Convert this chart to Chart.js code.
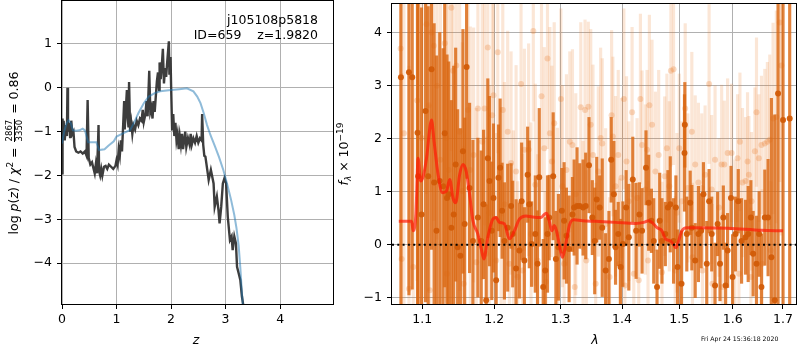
<!DOCTYPE html>
<html>
<head>
<meta charset="utf-8">
<script src="https://cdn.jsdelivr.net/npm/chart.js@4.4.1/dist/chart.umd.min.js"></script>
<style>
  body { margin: 0; background: #fff; }
  #fig { position: relative; width: 800px; height: 350px; overflow: hidden; font-family: "DejaVu Sans", sans-serif; color: #000; }
  canvas { position: absolute; top: 0; }
  .txt { position: absolute; white-space: pre; font-size: 12.5px; line-height: 1; }
  .mid { transform: translate(-50%, -50%); }
  .vlab { position: absolute; width: 300px; height: 20px; line-height: 20px; text-align: center; white-space: pre; font-size: 12.5px; transform: rotate(-90deg); }
  .frac { display: inline-block; vertical-align: middle; text-align: center; font-size: 8.5px; line-height: 9px; margin: 0 1px; }
  .frac span { display: block; padding: 0 1px; }
  .frac span:first-child { border-bottom: 1px solid #000; }
  sup { font-size: 9px; vertical-align: 5px; line-height: 0; }
  sub { font-size: 9px; vertical-align: -3px; line-height: 0; }
</style>
</head>
<body>
<div id="fig">
  <canvas id="pz" width="340" height="350" style="left:0"></canvas>
  <canvas id="spec" width="465" height="350" style="left:335px"></canvas>
  <div class="txt" style="right:482px; top:14px">j105108p5818</div>
  <div class="txt" style="right:482px; top:29px">ID=659    z=1.9820</div>
  <div class="vlab" style="left:-136px; top:143px">log <i>p</i>(<i>z</i>) / <i>χ</i><sup>2</sup> = <span class="frac"><span>2867</span><span>3350</span></span> = 0.86</div>
  <div class="txt mid" style="left:196px; top:340px"><i>z</i></div>
  <div class="vlab" style="left:194px; top:144px"><i>f</i><sub><i>λ</i></sub> × 10<sup>−19</sup></div>
  <div class="txt mid" style="left:595px; top:340px"><i>λ</i></div>
  <div class="txt" style="left:701px; top:336px; font-size:6.2px">Fri Apr 24 15:36:18 2020</div>
</div>
<script>
// left panel: redshift probability
const blackZ = [
  0.00, 0.01, 0.02, 0.03, 0.05, 0.07, 0.09, 0.10, 0.11, 0.13,
  0.15, 0.17, 0.19, 0.21, 0.23, 0.26, 0.30, 0.34, 0.38, 0.42,
  0.45, 0.47, 0.49, 0.52, 0.55, 0.58, 0.60, 0.62, 0.64, 0.66,
  0.67, 0.68, 0.70, 0.72, 0.74, 0.77, 0.80, 0.83, 0.86, 0.90,
  0.94, 0.98, 1.00, 1.02, 1.04, 1.06, 1.08, 1.10, 1.12, 1.14,
  1.15, 1.17, 1.19, 1.20, 1.22, 1.23, 1.25, 1.27, 1.29, 1.31,
  1.34, 1.37, 1.40, 1.43, 1.46, 1.48, 1.50, 1.53, 1.55, 1.57,
  1.60, 1.62, 1.64, 1.66, 1.68, 1.70, 1.72, 1.74, 1.76, 1.78,
  1.79, 1.81, 1.83, 1.85, 1.87, 1.89, 1.91, 1.93, 1.96, 1.97,
  1.99, 2.00, 2.02, 2.04, 2.06, 2.08, 2.10, 2.12, 2.14, 2.16,
  2.18, 2.20, 2.22, 2.24, 2.26, 2.28, 2.31, 2.34, 2.36, 2.38,
  2.41, 2.44, 2.47, 2.50, 2.53, 2.56, 2.57, 2.59, 2.61, 2.63,
  2.69, 2.73, 2.78, 2.80, 2.84, 2.87, 2.89, 2.92, 2.95, 2.98,
  3.01, 3.04, 3.08, 3.11, 3.13, 3.16, 3.19, 3.21, 3.24, 3.27,
  3.30, 3.32, 3.34
];
const blackLogP = [
  -1.95, -0.70, -1.15, -0.75, -1.20, -0.85, -1.10, 0.00, -1.00, -0.80,
  -1.15, -0.75, -1.05, -1.00, -1.35, -1.45, -1.48, -1.45, -1.50, -1.45,
  -1.55, -0.28, -1.60, -1.75, -1.70, -1.85, -1.95, -1.75, -1.95, -1.30,
  -0.85, -1.90, -2.00, -1.85, -2.00, -1.80, -1.78, -1.85, -1.75, -1.80,
  -1.85, -1.78, -1.65, -1.75, -1.40, -1.55, -1.20, -1.45, -0.90, -0.30,
  -0.95, -0.50, -0.05, -0.60, -0.90, 0.13, -1.00, -0.80, -1.05, -0.85,
  -0.95, -0.75, -0.85, -0.70, -0.75, -0.50, -0.78, -0.60, -0.30, -0.65,
  0.39, -0.55, -0.45, -0.70, -0.30, -0.55, -0.20, 0.15, 0.35, -0.05,
  0.58, 0.20, 0.50, 0.89, 0.10, 0.45, 0.25, 0.60, 1.06, 0.30,
  0.70, 0.10, -0.97, -0.60, -1.10, -0.80, -1.20, -1.05, -1.40, -1.10,
  -1.30, -1.05, -1.40, -1.20, -1.00, -1.35, -1.15, -1.30, -1.05, -1.30,
  -1.15, -1.25, -1.10, -1.25, -1.15, -1.20, -0.60, -1.30, -1.55, -1.57,
  -2.10, -1.87, -2.18, -2.71, -2.48, -2.79, -3.09, -2.71, -2.18, -2.06,
  -2.18, -2.94, -3.47, -3.39, -3.70, -3.39, -3.55, -4.08, -4.23, -4.38,
  -4.76, -4.92, -5.30
];
const blueZ = [
  0.00, 0.04, 0.08, 0.12, 0.16, 0.20, 0.26, 0.32, 0.38, 0.42,
  0.46, 0.48, 0.56, 0.63, 0.68, 0.78, 0.85, 0.95, 1.00, 1.10,
  1.25, 1.32, 1.40, 1.50, 1.59, 1.70, 1.80, 2.00, 2.15, 2.29,
  2.41, 2.48, 2.54, 2.60, 2.66, 2.72, 2.80, 2.88, 2.96, 3.03,
  3.10, 3.16, 3.20, 3.24, 3.27, 3.30, 3.34
];
const blueLogP = [
  -1.27, -1.00, -0.82, -0.74, -0.80, -0.97, -0.98, -0.97, -0.93, -0.97,
  -1.15, -1.24, -1.24, -1.24, -1.42, -1.40, -1.32, -1.22, -1.11, -1.05,
  -0.96, -0.80, -0.58, -0.35, -0.20, -0.12, -0.08, -0.05, -0.03, -0.01,
  -0.08, -0.20, -0.35, -0.58, -0.85, -1.07, -1.32, -1.58, -1.88, -2.20,
  -2.55, -2.90, -3.20, -3.60, -4.10, -4.69, -5.30
];
const zTicks = [0, 1, 2, 3, 4];
const logpTicks = [-4, -3, -2, -1, 0, 1];

// right panel: spectrum
const darkLam = [
  1.0722, 1.0826, 1.0869, 1.0939, 1.0947, 1.0992, 1.1045, 1.1080, 1.1125, 1.1160,
  1.1192, 1.1236, 1.1281, 1.1304, 1.1335, 1.1358, 1.1395, 1.1427, 1.1454, 1.1481,
  1.1519, 1.1555, 1.1579, 1.1606, 1.1648, 1.1695, 1.1765, 1.1813, 1.1846, 1.1884,
  1.1907, 1.1931, 1.1964, 1.1989, 1.2027, 1.2061, 1.2085, 1.2114, 1.2148, 1.2196,
  1.2246, 1.2270, 1.2320, 1.2369, 1.2403, 1.2444, 1.2493, 1.2518, 1.2553, 1.2609,
  1.2643, 1.2669, 1.2730, 1.2761, 1.2796, 1.2822, 1.2884, 1.2926, 1.2966, 1.3019,
  1.3055, 1.3092, 1.3134, 1.3187, 1.3214, 1.3261, 1.3304, 1.3357, 1.3400, 1.3453,
  1.3507, 1.3546, 1.3579, 1.3627, 1.3670, 1.3726, 1.3780, 1.3818, 1.3863, 1.3891,
  1.3936, 1.3976, 1.4014, 1.4070, 1.4115, 1.4183, 1.4240, 1.4297, 1.4343, 1.4411,
  1.4458, 1.4505, 1.4546, 1.4604, 1.4651, 1.4691, 1.4751, 1.4797, 1.4839, 1.4898,
  1.4940, 1.4970, 1.5042, 1.5096, 1.5102, 1.5138, 1.5200, 1.5230, 1.5292, 1.5352,
  1.5402, 1.5445, 1.5507, 1.5551, 1.5600, 1.5663, 1.5712, 1.5757, 1.5820, 1.5864,
  1.5902, 1.5967, 1.5998, 1.6056, 1.6108, 1.6172, 1.6250, 1.6302, 1.6355, 1.6400,
  1.6466, 1.6519, 1.6565, 1.6632, 1.6698, 1.6765, 1.6833, 1.6900, 1.7002, 1.7139
];
const darkFlux = [
  3.16, 3.25, 3.16, 2.11, 1.29, 0.57, 2.52, 1.29, 3.31, 1.17,
  0.26, 1.20, 1.10, 2.10, 0.88, 0.95, 0.32, 0.57, 1.51, -0.05,
  -0.21, 1.76, 0.39, 3.35, 1.07, 0.07, 0.51, 0.07, 0.76, -1.05,
  1.63, 1.20, 0.26, 0.88, -0.67, 1.26, 1.45, 0.64, 0.07, 0.32,
  0.73, 0.20, -0.45, -0.11, 0.82, -0.30, 1.32, 0.76, 0.01, 0.20,
  -0.36, 1.27, -0.80, -0.49, 0.20, 0.51, 1.29, -0.27, -0.05, 0.64,
  0.45, 0.17, -0.08, 0.57, 0.70, 0.73, 0.73, 0.70, 0.73, 1.50,
  0.51, 0.07, 0.85, 0.70, 0.32, -0.49, -0.27, 1.60, 0.95, -0.05,
  0.20, -0.42, 0.01, 0.70, 0.14, 1.23, 0.26, 0.57, 0.26, 1.45,
  0.79, 0.45, 0.07, -0.80, 0.45, 0.07, 0.20, 0.70, 0.76, 0.07,
  0.70, -0.42, -0.74, 1.73, 2.26, 0.20, 0.79, 0.32, -0.30, 0.20,
  0.26, 0.95, -0.36, 0.82, 0.20, -0.77, 0.39, -0.36, 0.51, -0.77,
  -0.11, 0.88, -0.61, 0.20, 0.82, 0.07, 0.14, 0.20, 0.51, -0.17,
  -0.36, 0.20, -0.80, 0.51, 0.51, -0.24, -1.05, 2.85, 2.35, 2.38
];
const darkErr = [
  4.5, 4.2, 4.0, 3.8, 3.5, 3.9, 3.6, 3.2, 3.4, 3.0,
  3.3, 2.8, 2.6, 2.9, 2.7, 2.5, 2.4, 2.8, 2.2, 2.6,
  2.4, 2.3, 2.0, 2.1, 1.6, 1.9, 1.5, 1.7, 1.4, 1.8,
  1.5, 1.6, 1.3, 1.4, 1.2, 1.0, 1.3, 0.9, 1.1, 1.2,
  0.8, 1.0, 1.3, 0.9, 1.1, 1.0, 0.9, 1.2, 0.8, 1.1,
  1.0, 1.3, 0.9, 1.0, 1.1, 0.8, 1.2, 0.9, 1.0, 0.8,
  1.1, 0.9, 1.0, 0.7, 0.9, 1.1, 0.8, 0.9, 1.0, 0.9,
  0.7, 1.0, 0.8, 0.6, 1.3, 0.7, 0.9, 0.8, 1.0, 0.7,
  0.6, 0.9, 0.8, 0.7, 1.0, 0.8, 0.9, 0.6, 0.8, 0.7,
  0.9, 0.6, 0.8, 0.7, 0.9, 0.8, 0.6, 0.7, 0.9, 0.8,
  0.6, 0.7, 1.0, 1.1, 0.8, 0.7, 0.6, 0.8, 0.7, 0.9,
  0.7, 0.6, 0.8, 0.6, 0.7, 0.8, 0.6, 0.7, 0.6, 0.8,
  0.7, 0.6, 0.8, 0.7, 0.6, 0.8, 0.7, 0.9, 0.7, 0.8,
  0.9, 0.8, 1.0, 0.9, 1.1, 3.0, 3.5, 5.0, 5.0, 5.0
];
const lightLam = [
  1.0718, 1.0731, 1.0761, 1.0826, 1.0882, 1.0934, 1.0992, 1.1058, 1.1089, 1.1125,
  1.1156, 1.1200, 1.1245, 1.1304, 1.1327, 1.1358, 1.1395, 1.1417, 1.1463, 1.1509,
  1.1546, 1.1625, 1.1658, 1.1704, 1.1742, 1.1765, 1.1827, 1.1860, 1.1907, 1.1931,
  1.1970, 1.1989, 1.2027, 1.2051, 1.2100, 1.2124, 1.2148, 1.2196, 1.2246, 1.2280,
  1.2320, 1.2394, 1.2418, 1.2444, 1.2508, 1.2544, 1.2579, 1.2609, 1.2643, 1.2704,
  1.2746, 1.2796, 1.2833, 1.2864, 1.2900, 1.2951, 1.3004, 1.3029, 1.3092, 1.3145,
  1.3187, 1.3240, 1.3320, 1.3357, 1.3389, 1.3442, 1.3481, 1.3518, 1.3562, 1.3605,
  1.3643, 1.3670, 1.3726, 1.3825, 1.3846, 1.3891, 1.3936, 1.3992, 1.4031, 1.4076,
  1.4115, 1.4171, 1.4200, 1.4256, 1.4314, 1.4343, 1.4400, 1.4429, 1.4470, 1.4516,
  1.4575, 1.4633, 1.4691, 1.4739, 1.4779, 1.4822, 1.4850, 1.4898, 1.4958, 1.5001,
  1.5048, 1.5109, 1.5157, 1.5230, 1.5292, 1.5352, 1.5414, 1.5476, 1.5551, 1.5600,
  1.5663, 1.5738, 1.5788, 1.5839, 1.5902, 1.5979, 1.6043, 1.6094, 1.6140, 1.6191,
  1.6250, 1.6289, 1.6316, 1.6368, 1.6434, 1.6466, 1.6513, 1.6565, 1.6632, 1.6684,
  1.6732, 1.6799, 1.6866, 1.6934, 1.6968, 1.1102, 1.1335, 1.1565, 1.1884, 1.2221,
  1.2344, 1.2771, 1.3055, 1.3224, 1.3410, 1.3791, 1.3959, 1.4048, 1.4285, 1.4446,
  1.4928, 1.5018, 1.5242, 1.5426, 1.5613, 1.5801, 1.6121, 1.6355, 1.6578, 1.6752
];
const lightFlux = [
  3.70, -0.27, 2.10, -0.83, -0.42, 2.72, 2.01, 4.16, 2.63, 4.00,
  3.75, 3.00, 1.60, 3.80, 2.01, 1.41, 4.47, 3.28, 3.38, 2.13,
  1.01, 2.54, 1.41, 1.69, -0.33, 2.57, 1.94, 2.57, 3.72, 0.60,
  2.44, 2.82, -0.30, 3.63, 0.39, 2.54, 0.76, 2.13, 1.54, -0.05,
  1.38, 3.03, -0.49, 1.79, 1.79, 0.20, 4.03, 1.13, -0.30, 2.80,
  1.82, 3.51, 2.10, 1.57, 2.29, 0.20, 2.75, 1.10, 1.41, 1.94,
  1.88, 0.95, 2.59, -0.05, 2.54, 2.60, 2.26, 1.69, -0.74, 1.38,
  2.01, 1.91, 0.39, 2.44, 2.04, 1.10, 1.69, 1.26, 2.75, 1.57,
  0.82, 2.50, -0.55, 0.88, 2.75, 1.88, 1.04, 1.79, 2.63, 2.26,
  1.38, 1.69, -0.52, 1.29, 1.82, 1.10, 3.28, 3.31, 0.60, 1.82,
  0.82, 2.57, 1.07, 2.13, 1.51, 1.17, 1.07, 1.32, 3.03, 1.04,
  1.60, 0.70, 1.51, 1.51, 1.73, 1.73, 0.20, 1.63, 1.94, 1.17,
  1.20, 1.57, 1.32, 0.82, 1.76, 2.50, 1.63, 1.88, 1.91, 1.94,
  1.98, 2.38, 2.41, 4.19, 3.38, -0.86, -0.55, -0.74, -0.17, -0.36,
  -0.61, -0.70, -0.36, -0.80, -0.30, -0.61, -0.36, -0.77, -0.67, -0.30,
  -0.49, -0.74, -0.24, -0.49, -0.74, -0.80, -0.55, -0.61, -0.36, -0.11
];
const lightErr = [
  4.0, 3.5, 3.8, 4.2, 3.6, 3.4, 3.9, 3.2, 3.5, 3.0,
  3.3, 2.9, 3.6, 2.8, 3.1, 3.4, 2.7, 2.9, 2.6, 3.0,
  2.8, 2.5, 2.7, 2.4, 2.9, 2.3, 2.6, 2.2, 2.5, 2.4,
  2.2, 2.0, 2.4, 1.9, 2.2, 2.0, 2.3, 1.9, 2.1, 2.2,
  2.0, 1.8, 2.2, 1.9, 2.0, 2.1, 1.7, 1.9, 2.0, 1.8,
  1.9, 1.7, 2.0, 1.8, 1.9, 2.0, 1.7, 1.9, 1.8, 1.7,
  1.8, 1.9, 1.6, 2.0, 1.7, 1.6, 1.8, 1.7, 1.9, 1.6,
  1.7, 1.6, 1.8, 1.6, 1.5, 1.7, 1.6, 1.5, 1.7, 1.6,
  1.5, 1.6, 1.7, 1.5, 1.6, 1.4, 1.6, 1.5, 1.7, 1.6,
  1.5, 1.6, 1.7, 1.5, 1.4, 1.6, 1.8, 1.8, 1.5, 1.4,
  1.5, 1.6, 1.4, 1.5, 1.3, 1.5, 1.4, 1.3, 1.5, 1.4,
  1.4, 1.3, 1.5, 1.2, 1.4, 1.3, 1.4, 1.2, 1.3, 1.4,
  1.2, 1.3, 1.1, 1.3, 1.2, 1.4, 1.2, 1.3, 1.4, 1.5,
  1.6, 1.8, 2.0, 3.0, 3.2, 3.5, 2.9, 2.6, 2.2, 1.9,
  1.8, 1.7, 1.8, 1.6, 1.7, 1.5, 1.6, 1.5, 1.6, 1.5,
  1.4, 1.5, 1.4, 1.3, 1.5, 1.4, 1.3, 1.3, 1.4, 1.3
];
const modelLam = [
  1.0694, 1.0861, 1.0882, 1.0917, 1.0947, 1.0979, 1.1014, 1.1058, 1.1125, 1.1160,
  1.1214, 1.1273, 1.1327, 1.1372, 1.1417, 1.1454, 1.1509, 1.1555, 1.1601, 1.1648,
  1.1695, 1.1765, 1.1813, 1.1850, 1.1907, 1.1979, 1.2027, 1.2075, 1.2148, 1.2221,
  1.2295, 1.2369, 1.2468, 1.2568, 1.2694, 1.2746, 1.2781, 1.2822, 1.2864, 1.2900,
  1.2936, 1.2988, 1.3029, 1.3081, 1.3145, 1.3214, 1.3346, 1.3562, 1.3891, 1.4229,
  1.4371, 1.4458, 1.4516, 1.4604, 1.4691, 1.4751, 1.4839, 1.4898, 1.4940, 1.4988,
  1.5048, 1.5138, 1.5292, 1.5915, 1.6565, 1.7002
];
const modelFlux = [
  0.44, 0.44, 0.26, 0.57, 1.63, 1.20, 1.29, 1.63, 2.35, 1.94,
  1.32, 0.98, 1.01, 1.23, 0.88, 0.79, 1.32, 1.51, 1.38, 0.95,
  0.45, 0.20, -0.08, -0.27, 0.14, 0.48, 0.51, 0.42, 0.39, 0.11,
  0.26, 0.48, 0.54, 0.52, 0.51, 0.57, 0.59, 0.45, 0.26, 0.36,
  0.26, -0.05, -0.24, 0.01, 0.39, 0.47, 0.45, 0.44, 0.42, 0.40,
  0.42, 0.45, 0.42, 0.32, 0.26, 0.11, 0.07, 0.00, -0.06, 0.07,
  0.26, 0.32, 0.32, 0.31, 0.27, 0.26
];
const zeroLam = [1.0607, 1.727];
const zeroFlux = [0, 0];
const lamTicks = [1.1, 1.2, 1.3, 1.4, 1.5, 1.6, 1.7];
const fluxTicks = [-1, 0, 1, 2, 3, 4];

Chart.defaults.font.family = "'DejaVu Sans', sans-serif";
Chart.defaults.font.size = 12.5;
Chart.defaults.color = "#000";

const framePlugin = {
    id: "frame",
    afterDatasetsDraw(chart) {
        const { ctx, chartArea: a } = chart;
        ctx.save();
        ctx.strokeStyle = "#000";
        ctx.lineWidth = 1;
        ctx.strokeRect(a.left - 0.5, a.top - 0.5, a.right - a.left + 1, a.bottom - a.top + 1);
        ctx.restore();
    }
};

function minusLabel(v) {
    return v < 0 ? "\u2212" + Math.abs(v) : String(v);
}

function axis(type, min, max, tickList, size, isX, fmt) {
    return {
        type: type,
        min: min,
        max: max,
        offset: false,
        grid: { color: "#b0b0b0", lineWidth: 1, tickColor: "#000", tickLength: 5, offset: false },
        border: { display: false },
        ticks: { autoSkip: false, maxRotation: 0, padding: isX ? 3 : 5, callback: fmt },
        afterBuildTicks: s => { s.ticks = tickList.map(v => ({ value: v })); },
        afterFit: s => {
            // keep the plot box where the reference has it
            if (isX) s.height = size; else s.width = size;
            s.paddingTop = 0;
            s.paddingBottom = 0;
            s.paddingLeft = 0;
            s.paddingRight = 0;
        }
    };
}

function pairs(xs, ys) {
    return xs.map((x, i) => ({ x: x, y: ys[i] }));
}

function errBars(xs, ys, es) {
    return xs.map((x, i) => ({ x: x, y: [ys[i] - es[i], ys[i] + es[i]] }));
}

new Chart(document.getElementById("pz"), {
    type: "line",
    data: {
        datasets: [
            {
                data: pairs(blueZ, blueLogP),
                borderColor: "rgba(31,119,180,0.5)",
                borderWidth: 2,
                pointRadius: 0,
                tension: 0,
                clip: 0,
                order: 0
            },
            {
                data: pairs(blackZ, blackLogP),
                borderColor: "rgba(45,45,45,0.92)",
                borderWidth: 2.4,
                pointRadius: 0,
                tension: 0,
                clip: 0,
                order: 1
            }
        ]
    },
    options: {
        responsive: false,
        animation: false,
        devicePixelRatio: 1,
        layout: { padding: { left: 0, right: 7, top: 1, bottom: 0 } },
        plugins: { legend: { display: false }, tooltip: { enabled: false } },
        scales: {
            x: axis("linear", 0, 4.97, zTicks, 46, true, v => minusLabel(v)),
            y: axis("linear", -4.93, 1.98, logpTicks, 62, false, v => minusLabel(v))
        }
    },
    plugins: [framePlugin]
});

const fluxAxis = axis("linear", -1.12, 4.54, fluxTicks, 57, false, v => minusLabel(v));
fluxAxis.stacked = false;

new Chart(document.getElementById("spec"), {
    type: "scatter",
    data: {
        datasets: [
            {
                type: "line",
                data: pairs(zeroLam, zeroFlux),
                borderColor: "#000",
                borderWidth: 2,
                borderDash: [2, 3.3],
                pointRadius: 0,
                clip: 0,
                order: 0
            },
            {
                type: "line",
                data: pairs(modelLam, modelFlux),
                borderColor: "rgba(255,25,5,0.7)",
                borderWidth: 3,
                pointRadius: 0,
                cubicInterpolationMode: "monotone",
                clip: 0,
                order: 1
            },
            {
                type: "scatter",
                data: pairs(darkLam, darkFlux),
                backgroundColor: "rgba(210,92,8,0.95)",
                pointRadius: 3,
                pointBorderWidth: 0,
                clip: 0,
                order: 2
            },
            {
                type: "bar",
                data: errBars(darkLam, darkFlux, darkErr),
                backgroundColor: "rgba(218,104,18,0.82)",
                borderWidth: 0,
                barThickness: 2.5,
                stack: "err",
                clip: 0,
                order: 3
            },
            {
                type: "scatter",
                data: pairs(lightLam, lightFlux),
                backgroundColor: "rgba(232,125,45,0.28)",
                pointRadius: 3,
                pointBorderWidth: 0,
                clip: 0,
                order: 4
            },
            {
                type: "bar",
                data: errBars(lightLam, lightFlux, lightErr),
                backgroundColor: "rgba(235,128,50,0.2)",
                borderWidth: 0,
                barThickness: 2.5,
                stack: "err",
                clip: 0,
                order: 5
            }
        ]
    },
    options: {
        responsive: false,
        animation: false,
        devicePixelRatio: 1,
        layout: { padding: { left: 0, right: 2, top: 1, bottom: 0 } },
        plugins: { legend: { display: false }, tooltip: { enabled: false } },
        scales: {
            x: axis("logarithmic", 1.0607, 1.727, lamTicks, 46, true, v => Number(v).toFixed(1)),
            y: fluxAxis
        }
    },
    plugins: [framePlugin]
});
</script>
</body>
</html>
